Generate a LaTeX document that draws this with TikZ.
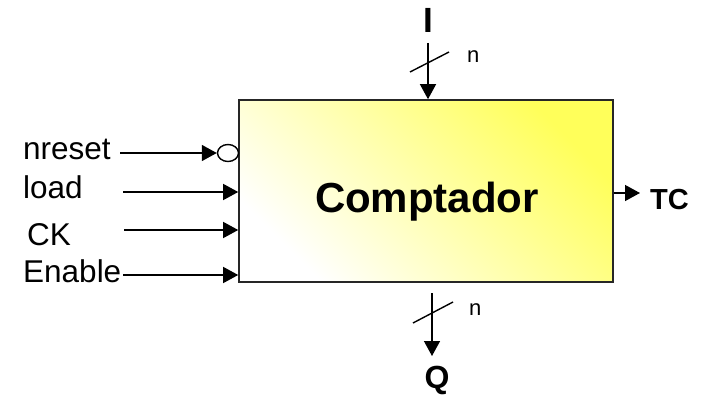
\documentclass[tikz,border=0pt]{standalone}
\usepackage{fontspec}
\setmainfont{Liberation Sans}
\usetikzlibrary{arrows.meta,shapes.geometric}
\definecolor{amarillo}{HTML}{FFFF5A}
\definecolor{crema}{HTML}{FFFFC4}

\begin{document}
\begin{tikzpicture}[x=1pt,y=-1pt,
   sig/.style={-{Triangle[length=15pt,width=16pt]},line width=1.4pt},
   bus/.style={line width=1.4pt},
   etiq/.style={anchor=base west,inner sep=0pt,font=\fontsize{31.5}{38}\selectfont},
   gran/.style={anchor=base,inner sep=0pt,font=\fontsize{32}{38}\selectfont\bfseries},
   ancho/.style={anchor=base west,inner sep=0pt,font=\fontsize{22}{26}\selectfont}]
  \useasboundingbox (0,0) rectangle (704,396);
  % bloque
  \node[draw=black!85,line width=1.6pt,minimum width=374pt,minimum height=182pt,
        top color=amarillo,middle color=crema,bottom color=white,shading angle=-45] (cnt) at (426,191) {};
  \node[anchor=base,inner sep=0pt,font=\fontsize{42}{50}\selectfont\bfseries] (nom) at (427,212) {Comptador};
  % --- entradas ---
  \node[etiq] (nrst) at (23,159) {nreset};
  \node[etiq] (ld)   at (23,198) {load};
  \node[etiq] (ck)   at (27,245) {CK};
  \node[etiq] (en)   at (23,282) {Enable};
  \node[ellipse,draw,fill=white,line width=1.4pt,minimum width=21pt,minimum height=17pt,inner sep=0pt] (neg) at (228,153) {};
  \coordinate (s1) at (120,153);
  \coordinate (s2) at (123,192);
  \coordinate (s3) at (124,230);
  \coordinate (s4) at (123,275);
  \draw[sig] (s1) -- (neg);
  \draw[sig] (s2) -- (s2 -| cnt.west);
  \draw[sig] (s3) -- (s3 -| cnt.west);
  \draw[sig] (s4) -- (s4 -| cnt.west);
  % --- entrada I, n bits ---
  \node[gran,font=\fontsize{35}{42}\selectfont\bfseries] (ent) at (428,33) {I};
  \coordinate (i0) at (428,43);
  \draw[sig] (i0) -- (i0 |- cnt.north);
  \draw[bus] (410,72) -- (449,52);
  \node[ancho] (ni) at (467,63) {n};
  % --- salida Q, n bits ---
  \coordinate (q0) at (432,293);
  \coordinate (q1) at (432,356);
  \draw[sig] (q0) -- (q1);
  \draw[bus] (413,323) -- (453,302);
  \node[ancho] (nq) at (469,315) {n};
  \node[gran] (sal) at (437,388) {Q};
  % --- TC ---
  \coordinate (t1) at (640,193);
  \draw[sig] (t1 -| cnt.east) -- (t1);
  \node[anchor=base west,inner sep=0pt,font=\fontsize{29}{35}\selectfont\bfseries] (tc) at (650,209) {TC};
\end{tikzpicture}
\end{document}
